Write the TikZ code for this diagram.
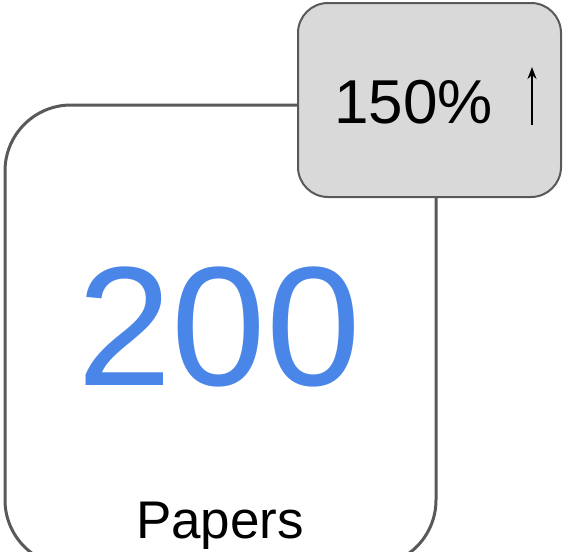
\documentclass[tikz,border=0pt]{standalone}
\usepackage{fontspec}
\setmainfont{Liberation Sans}
\usetikzlibrary{arrows.meta,positioning}

\definecolor{edgegray}{HTML}{595959}
\definecolor{badgegray}{HTML}{D9D9D9}
\definecolor{countblue}{HTML}{4A86E8}

\tikzset{
  card/.style={draw=edgegray, line width=3pt, rounded corners=66pt},
  badge/.style={draw=edgegray, fill=badgegray, line width=2pt, rounded corners=30pt},
  label/.style={inner sep=0pt, anchor=base}
}

\begin{document}
\begin{tikzpicture}[x=1pt,y=-1pt]
      \useasboundingbox (0,0) rectangle (563,552);

      \draw[card] (5,105) rectangle (436,566);
      \draw[badge] (298,3) rectangle (561,197);

      \node[label, text=countblue] (count) at (219,385) {\fontsize{170}{170}\selectfont 200};
      \node[label] (papers) at (220,538) {\fontsize{53}{53}\selectfont Papers};
      \node[label, anchor=base west] (growth) at (334,123) {\fontsize{62}{62}\selectfont 150\%};

      \coordinate (uptail) at (532,125);
      \coordinate (uphead) at (532,67);
      \draw[line width=2pt, -{Stealth[length=12pt,width=9pt]}] (uptail) -- (uphead);

    \end{tikzpicture}
\end{document}
